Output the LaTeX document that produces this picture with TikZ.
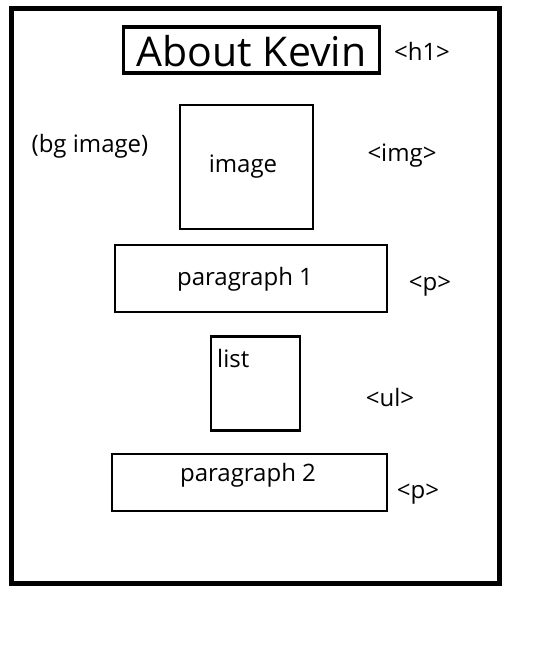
\documentclass[tikz,border=0pt]{standalone}
\usepackage{fontspec}
\setmainfont{Open Sans}
\begin{document}
\begin{tikzpicture}[x=1pt,y=-1pt,
  box/.style={draw=black,line width=2.6pt,inner sep=0pt,outer sep=0pt},
  txt/.style={font=\fontsize{24}{26}\selectfont,inner sep=0pt},
  tag/.style={font=\fontsize{24}{26}\selectfont,inner sep=0pt}]
\useasboundingbox (0,0) rectangle (533,648);
\fill[white] (0,0) rectangle (533,648);
\node[draw=black,line width=5pt,minimum width=488pt,minimum height=575pt,inner sep=0pt] (frame) at (255.5,296) {};
\node[draw=black,line width=3.5pt,minimum width=256pt,minimum height=46pt,inner sep=0pt] (titlebox) at (251.7,50) {};
\node[font=\fontsize{41}{44}\selectfont,inner sep=0pt] (title) at (251.5,51) {About Kevin};
\node[tag] (h1) at (422,51) {<h1>};
\node[txt] (bg) at (90,146) {(bg image)};
\node[box,minimum width=133pt,minimum height=124pt] (imgbox) at (246.5,167) {};
\node[txt] (imgtxt) at (243,167) {image};
\node[tag] (imgtag) at (402,156) {<img>};
\node[box,minimum width=272pt,minimum height=67pt] (p1box) at (251,278.5) {};
\node[txt] (p1txt) at (245,279) {paragraph 1};
\node[tag] (p1tag) at (430,286) {<p>};
\node[box,minimum width=89pt,minimum height=94pt] (listbox) at (255.5,383.3) {};
\node[txt,anchor=north west] (listtxt) at (217,349) {list};
\node[tag] (ultag) at (390,397) {<ul>};
\node[box,minimum width=275pt,minimum height=57pt] (p2box) at (249.5,482.5) {};
\node[txt] (p2txt) at (248,475) {paragraph 2};
\node[tag] (p2tag) at (418,494) {<p>};
\end{tikzpicture}
\end{document}
